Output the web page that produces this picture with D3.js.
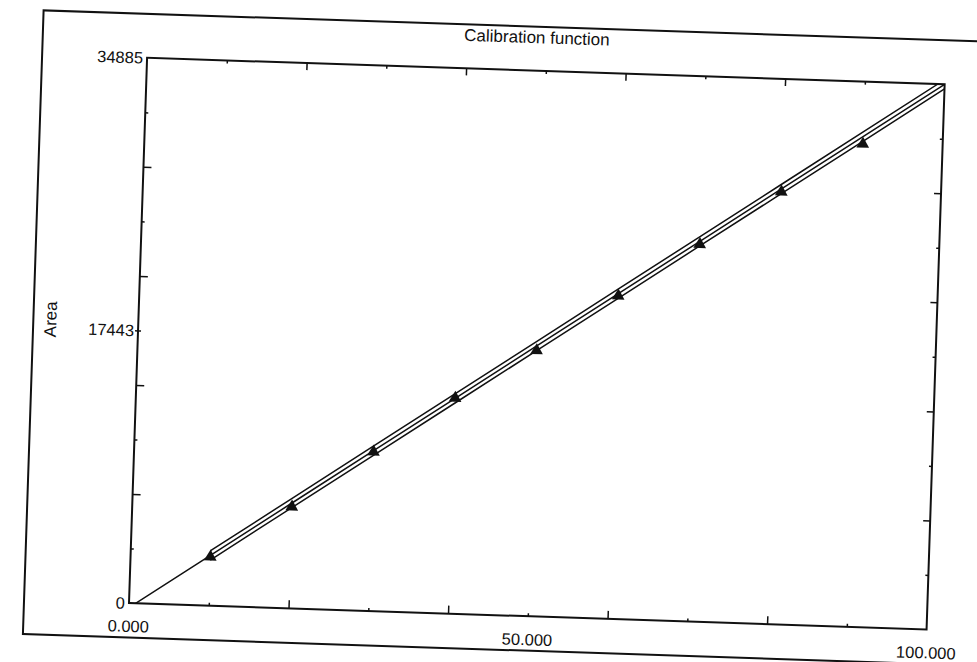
<!DOCTYPE html>
<html>
<head>
<meta charset="utf-8">
<script src="https://cdn.jsdelivr.net/npm/d3@7"></script>
<style>
  html, body { margin: 0; padding: 0; background: #fff; }
  svg { display: block; }
  text { font-family: "Liberation Sans", Arial, sans-serif; fill: #111; }
</style>
</head>
<body>
<svg id="chart" width="977" height="662"></svg>
<script>
// ---- data ----
const chartTitle = "Calibration function";
const yAxisTitle = "Area";
const xDomain = [0, 100];
const yDomain = [0, 34885];
const xLabelValues = [0, 50, 100];
const xLabelTexts = ["0.000", "50.000", "100.000"];
const yLabelValues = [0, 17443, 34885];
const yLabelTexts = ["0", "17443", "34885"];
const xTickLong = [20, 40, 60, 80];
const xTickShort = [10, 30, 50, 70, 90];
const yTickLong = [6977, 13954, 20931, 27908];
const yTickShort = [3488.5, 10465.5, 17442.5, 24419.5, 31396.5];
const concentration = [10, 20, 30, 40, 50, 60, 70, 80, 90];
const area = [3126, 6493, 10176, 13788, 17004, 20668, 24139, 27663, 30895];
const fitX = [0, 10, 20, 30, 40, 50, 60, 70, 80, 90, 100];
const fitArea = [-300, 3218, 6737, 10256, 13774, 17293, 20811, 24330, 27848, 31367, 34885];
const bandX = [10, 20, 30, 40, 50, 60, 70, 80, 90, 100];
const upperArea = [3518, 7037, 10556, 14074, 17593, 21111, 24630, 28148, 31667, 35185];
const lowerArea = [2918, 6437, 9956, 13474, 16993, 20511, 24030, 27548, 31067, 34585];

// ---- layout ----
const L = 129, R = 927, T = 57.5, B = 603;
const svg = d3.select("#chart");
svg.append("rect").attr("width", 977).attr("height", 662).attr("fill", "#fff");
const g = svg.append("g").attr("transform", `rotate(1.9, ${L}, ${B})`);

const x = d3.scaleLinear().domain(xDomain).range([L, R]);
const y = d3.scaleLinear().domain(yDomain).range([B, T]);

// outer frame
g.append("rect").attr("x", 24).attr("y", 13.5).attr("width", 1000).attr("height", 624)
  .attr("fill", "none").attr("stroke", "#111").attr("stroke-width", 2);

// clip
svg.append("defs").append("clipPath").attr("id", "plotclip")
  .append("rect").attr("x", L).attr("y", T).attr("width", R - L).attr("height", B - T);

// ticks
function tickGroup(axisFn, transform) {
  const a = g.append("g").attr("transform", transform).call(axisFn);
  a.select(".domain").remove();
  a.selectAll("line").attr("stroke", "#111").attr("stroke-width", 1.5);
  a.selectAll("text").remove();
}
tickGroup(d3.axisBottom(x).tickValues(xTickLong).tickSize(-8).tickFormat(""), `translate(0,${B})`);
tickGroup(d3.axisBottom(x).tickValues(xTickShort).tickSize(-3).tickFormat(""), `translate(0,${B})`);
tickGroup(d3.axisTop(x).tickValues(xTickLong).tickSize(-7).tickFormat(""), `translate(0,${T})`);
tickGroup(d3.axisTop(x).tickValues(xTickShort).tickSize(-3).tickFormat(""), `translate(0,${T})`);
tickGroup(d3.axisLeft(y).tickValues(yTickLong).tickSize(-8).tickFormat(""), `translate(${L},0)`);
tickGroup(d3.axisLeft(y).tickValues(yTickShort).tickSize(-3).tickFormat(""), `translate(${L},0)`);
tickGroup(d3.axisLeft(y).tickValues([yLabelValues[1]]).tickSize(3).tickFormat(""), `translate(${L},0)`);
tickGroup(d3.axisRight(y).tickValues(yTickLong).tickSize(-7).tickFormat(""), `translate(${R},0)`);
tickGroup(d3.axisRight(y).tickValues(yTickShort).tickSize(-3).tickFormat(""), `translate(${R},0)`);

// plot frame
g.append("rect").attr("x", L).attr("y", T).attr("width", R - L).attr("height", B - T)
  .attr("fill", "none").attr("stroke", "#111").attr("stroke-width", 2);

// data lines
const plot = g.append("g").attr("clip-path", "url(#plotclip)");
const line = d3.line().x(d => x(d[0])).y(d => y(d[1]));
plot.append("path").datum(fitX.map((v, i) => [v, fitArea[i]]))
  .attr("d", line).attr("fill", "none").attr("stroke", "#111").attr("stroke-width", 1.5);
plot.append("path").datum(bandX.map((v, i) => [v, upperArea[i]]))
  .attr("d", line).attr("fill", "none").attr("stroke", "#111").attr("stroke-width", 1.5);
plot.append("path").datum(bandX.map((v, i) => [v, lowerArea[i]]))
  .attr("d", line).attr("fill", "none").attr("stroke", "#111").attr("stroke-width", 1.5);

// points
plot.selectAll("path.pt").data(concentration.map((v, i) => [v, area[i]])).enter()
  .append("path").attr("class", "pt")
  .attr("d", d3.symbol().type(d3.symbolTriangle).size(70))
  .attr("transform", d => `translate(${x(d[0])},${y(d[1])})`)
  .attr("fill", "#111");

// labels
g.selectAll("text.xl").data(xLabelValues).enter().append("text").attr("class", "xl")
  .attr("x", d => x(d)).attr("y", B + 29).attr("text-anchor", "middle")
  .attr("font-size", 16.5).text((d, i) => xLabelTexts[i]);
g.selectAll("text.yl").data(yLabelValues).enter().append("text").attr("class", "yl")
  .attr("x", L - 4).attr("y", d => y(d)).attr("dy", "0.36em").attr("text-anchor", "end")
  .attr("font-size", 16.5).text((d, i) => yLabelTexts[i]);

g.append("text").attr("x", 518).attr("y", 30).attr("text-anchor", "middle")
  .attr("font-size", 17).text(chartTitle);
g.append("text").attr("transform", "translate(47,322) rotate(-90)")
  .attr("text-anchor", "middle").attr("font-size", 17).text(yAxisTitle);
</script>
</body>
</html>
